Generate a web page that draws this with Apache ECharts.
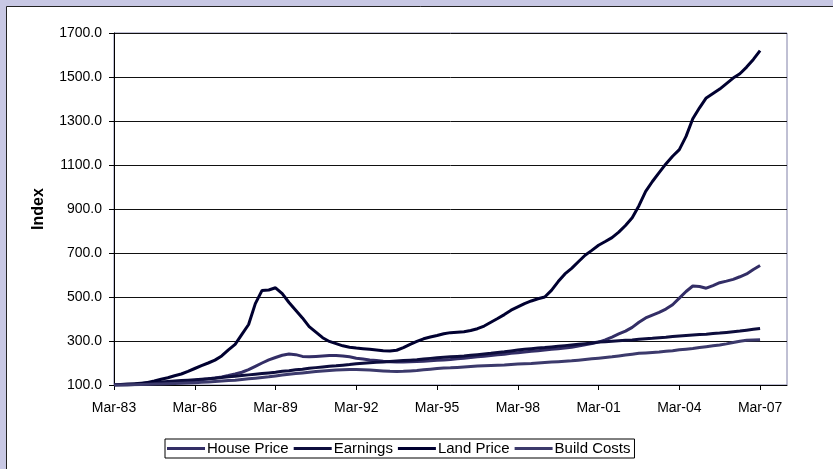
<!DOCTYPE html>
<html>
<head>
<meta charset="utf-8">
<script src="https://cdn.jsdelivr.net/npm/echarts@6/dist/echarts.min.js"></script>
<style>
html,body{margin:0;padding:0;background:#c8c8e4;}
#chart{width:833px;height:469px;}
</style>
</head>
<body>
<div id="chart"></div>
<script>
const categories = [
"Mar-83","Jun-83","Sep-83","Dec-83","Mar-84","Jun-84","Sep-84","Dec-84","Mar-85","Jun-85","Sep-85","Dec-85",
"Mar-86","Jun-86","Sep-86","Dec-86","Mar-87","Jun-87","Sep-87","Dec-87","Mar-88","Jun-88","Sep-88","Dec-88",
"Mar-89","Jun-89","Sep-89","Dec-89","Mar-90","Jun-90","Sep-90","Dec-90","Mar-91","Jun-91","Sep-91","Dec-91",
"Mar-92","Jun-92","Sep-92","Dec-92","Mar-93","Jun-93","Sep-93","Dec-93","Mar-94","Jun-94","Sep-94","Dec-94",
"Mar-95","Jun-95","Sep-95","Dec-95","Mar-96","Jun-96","Sep-96","Dec-96","Mar-97","Jun-97","Sep-97","Dec-97",
"Mar-98","Jun-98","Sep-98","Dec-98","Mar-99","Jun-99","Sep-99","Dec-99","Mar-00","Jun-00","Sep-00","Dec-00",
"Mar-01","Jun-01","Sep-01","Dec-01","Mar-02","Jun-02","Sep-02","Dec-02","Mar-03","Jun-03","Sep-03","Dec-03",
"Mar-04","Jun-04","Sep-04","Dec-04","Mar-05","Jun-05","Sep-05","Dec-05","Mar-06","Jun-06","Sep-06","Dec-06",
"Mar-07","Jun-07","Sep-07","Dec-07","Mar-08"
];

const housePrice = [
100,100,101,102,103,104,106,108,110,112,114,117,
120,124,128,132,137,143,150,158,170,185,200,214,
225,235,241,238,230,228,230,232,234,234,232,228,
222,218,214,211,208,206,205,205,206,207,208,210,
212,214,216,219,222,225,228,231,234,237,240,244,
247,250,253,256,259,262,265,268,272,277,283,289,
295,305,318,332,345,362,385,405,418,430,445,465,
495,525,550,548,540,552,565,572,580,592,605,625,
643
];

const earnings = [
100,102,104,106,108,110,112,114,116,118,120,122,
124,126,128,131,134,137,140,143,146,149,152,155,
158,162,165,169,172,176,179,182,185,187,190,193,
197,199,201,203,205,207,209,211,213,215,218,221,
224,226,228,230,232,235,238,241,244,248,251,255,
259,262,265,268,270,273,276,279,282,285,288,291,
295,297,299,301,303,305,308,310,312,315,317,320,
323,325,327,329,331,334,336,339,342,345,349,353,
357
];

const landPrice = [
100,100,100,102,106,112,118,126,133,142,150,162,
175,188,200,213,232,260,285,330,375,470,530,532,
542,515,475,440,405,365,340,315,298,288,278,272,
268,265,262,259,256,255,258,270,285,298,310,318,
325,333,338,340,342,348,356,368,385,402,420,440,
455,470,482,492,500,530,570,605,630,660,690,712,
735,752,770,795,825,860,915,980,1025,1065,1105,1140,
1170,1230,1310,1360,1405,1425,1445,1470,1495,1515,1545,1580,
1620
];

const buildCosts = [
100,100,101,101,102,103,104,105,106,107,108,109,
110,112,114,116,118,120,122,125,128,131,134,137,
141,145,149,152,155,158,161,164,166,168,169,170,
170,169,168,166,164,162,161,162,164,166,169,172,
175,177,178,180,182,184,186,188,189,190,191,193,
195,197,198,200,202,204,206,208,210,213,216,219,
222,225,228,232,236,240,244,246,248,250,253,256,
260,263,266,270,274,278,282,287,293,299,303,305,
306
];

const seriesNames = ["House Price","Earnings","Land Price","Build Costs"];
const yTicks = {min:100, max:1700, step:200};

const FONT = "'Liberation Sans', Arial, sans-serif";
const colors = ["#332e66","#0d0d3d","#000030","#3c3a6c"];
const dataSets = [housePrice, earnings, landPrice, buildCosts];

const chart = echarts.init(document.getElementById('chart'));
chart.setOption({
  animation: false,
  backgroundColor: '#c8c8e4',
  graphic: [{
    type: 'rect', z: -100, silent: true,
    shape: {x: 6.5, y: 6.5, width: 900, height: 600},
    style: {fill: '#ffffff', stroke: '#222222', lineWidth: 1}
  }],
  grid: {left: 114, top: 33, right: 46, bottom: 84, show: true, borderColor: '#8080a8', borderWidth: 1, backgroundColor: 'transparent'},
  legend: {
    data: seriesNames,
    left: 165, top: 439,
    icon: 'rect', itemWidth: 38, itemHeight: 3, itemGap: 5,
    padding: [2, 4, 2, 2],
    borderColor: '#000', borderWidth: 1, borderRadius: 0,
    textStyle: {fontFamily: FONT, fontSize: 15, color: '#000', padding: [0,0,0,-3]}
  },
  xAxis: {
    type: 'category',
    data: categories,
    boundaryGap: false,
    axisLine: {lineStyle: {color: '#000', width: 1}},
    axisTick: {interval: 11, length: 5, lineStyle: {color: '#000'}},
    axisLabel: {interval: 11, margin: 16, fontFamily: FONT, fontSize: 14, color: '#000'},
    splitLine: {show: false}
  },
  yAxis: {
    type: 'value',
    min: yTicks.min, max: yTicks.max, interval: yTicks.step,
    name: 'Index', nameLocation: 'middle', nameGap: 67,
    nameTextStyle: {fontFamily: FONT, fontSize: 16, fontWeight: 'bold', color: '#000'},
    axisLine: {show: true, lineStyle: {color: '#000', width: 1}},
    axisTick: {show: true, length: 5, lineStyle: {color: '#000'}},
    axisLabel: {margin: 12, fontFamily: FONT, fontSize: 14, color: '#000', formatter: v => v.toFixed(1)},
    splitLine: {show: true, lineStyle: {color: '#111', width: 1}}
  },
  series: seriesNames.map((n, k) => ({
    name: n, type: 'line', data: dataSets[k],
    showSymbol: false, symbol: 'none',
    color: colors[k],
    lineStyle: {color: colors[k], width: 3},
    z: 2 + k
  }))
});
</script>
</body>
</html>
